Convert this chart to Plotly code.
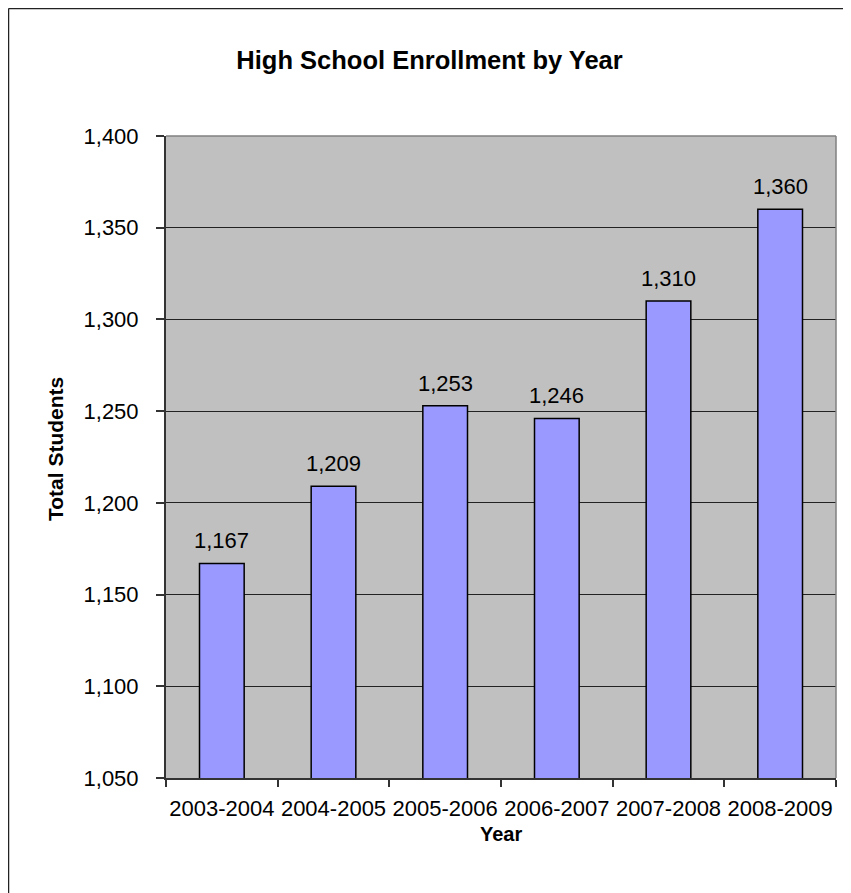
import plotly.graph_objects as go

years = ["2003-2004", "2004-2005", "2005-2006", "2006-2007", "2007-2008", "2008-2009"]
students = [1167, 1209, 1253, 1246, 1310, 1360]
y_ticks = [1050, 1100, 1150, 1200, 1250, 1300, 1350, 1400]

OFF = 8  # page body margin
W, H = 851 - OFF, 893 - OFF
L, R, T, B = 166 - OFF, 15, 136 - OFF, 115
pw, ph = W - L - R, H - T - B

def px_x(px):
    return (px - OFF - L) / pw

def px_y(py):
    return (H - B - (py - OFF)) / ph

FONT = "Liberation Sans, Arial, sans-serif"

fig = go.Figure()
fig.add_trace(go.Bar(
    x=years, y=students, width=0.4,
    marker=dict(color="#9999FF", line=dict(color="#000000", width=1.5)),
    hoverinfo="x+y",
))

for xv, yv in zip(years, students):
    fig.add_annotation(x=xv, y=yv, text=f"{yv:,}", showarrow=False,
                       yanchor="bottom", yshift=8,
                       font=dict(family=FONT, size=22, color="#000000"))

# axis titles
fig.add_annotation(xref="paper", yref="paper", x=0.5, y=px_y(834), text="<b>Year</b>",
                   showarrow=False, xanchor="center", yanchor="middle",
                   font=dict(family=FONT, size=20, color="#000000"))
fig.add_annotation(xref="paper", yref="paper", x=px_x(55), y=px_y(449), text="<b>Total Students</b>",
                   showarrow=False, xanchor="center", yanchor="middle", textangle=-90,
                   font=dict(family=FONT, size=21, color="#000000"))

shapes = [
    dict(type="line", xref="paper", yref="paper", x0=0, x1=1, y0=1, y1=1,
         line=dict(color="#808080", width=1.5), layer="above"),
    dict(type="line", xref="paper", yref="paper", x0=1, x1=1, y0=0, y1=1,
         line=dict(color="#808080", width=1.5), layer="above"),
    # outer chart border (top and left)
    dict(type="line", xref="paper", yref="paper", x0=px_x(OFF + 0.5), x1=px_x(W + OFF + 5),
         y0=px_y(OFF + 0.5), y1=px_y(OFF + 0.5), line=dict(color="#222222", width=1.5)),
    dict(type="line", xref="paper", yref="paper", x0=px_x(OFF + 0.5), x1=px_x(OFF + 0.5),
         y0=px_y(OFF + 0.5), y1=px_y(H + OFF + 5), line=dict(color="#222222", width=1.5)),
]

fig.update_layout(
    width=W, height=H,
    margin=dict(l=L, r=R, t=T, b=B, pad=0),
    paper_bgcolor="#FFFFFF",
    plot_bgcolor="#C0C0C0",
    showlegend=False,
    title=dict(text="<b>High School Enrollment by Year</b>", x=0.5, xanchor="center",
               y=1 - (60 - OFF) / H, yanchor="middle",
               font=dict(family=FONT, size=25.5, color="#000000")),
    font=dict(family=FONT, size=22, color="#000000"),
    shapes=shapes,
)

fig.update_xaxes(
    tickfont=dict(family=FONT, size=22, color="#000000"),
    tickangle=0, automargin=False,
    showline=True, linecolor="#333333", linewidth=1.5,
    ticks="outside", ticklen=7, tickcolor="#333333", tickwidth=1.5,
    tickson="boundaries", ticklabelstandoff=10,
    showgrid=False, zeroline=False,
)
fig.update_yaxes(
    range=[1050, 1400], tickvals=y_ticks, ticktext=[f"{v:,}" for v in y_ticks],
    tickfont=dict(family=FONT, size=22, color="#000000"),
    automargin=False,
    showline=True, linecolor="#333333", linewidth=2,
    ticks="outside", ticklen=8, tickcolor="#333333", tickwidth=1.5,
    ticklabelstandoff=13,
    showgrid=True, gridcolor="#222222", gridwidth=1,
    zeroline=False,
)

fig.write_html("out.html")
